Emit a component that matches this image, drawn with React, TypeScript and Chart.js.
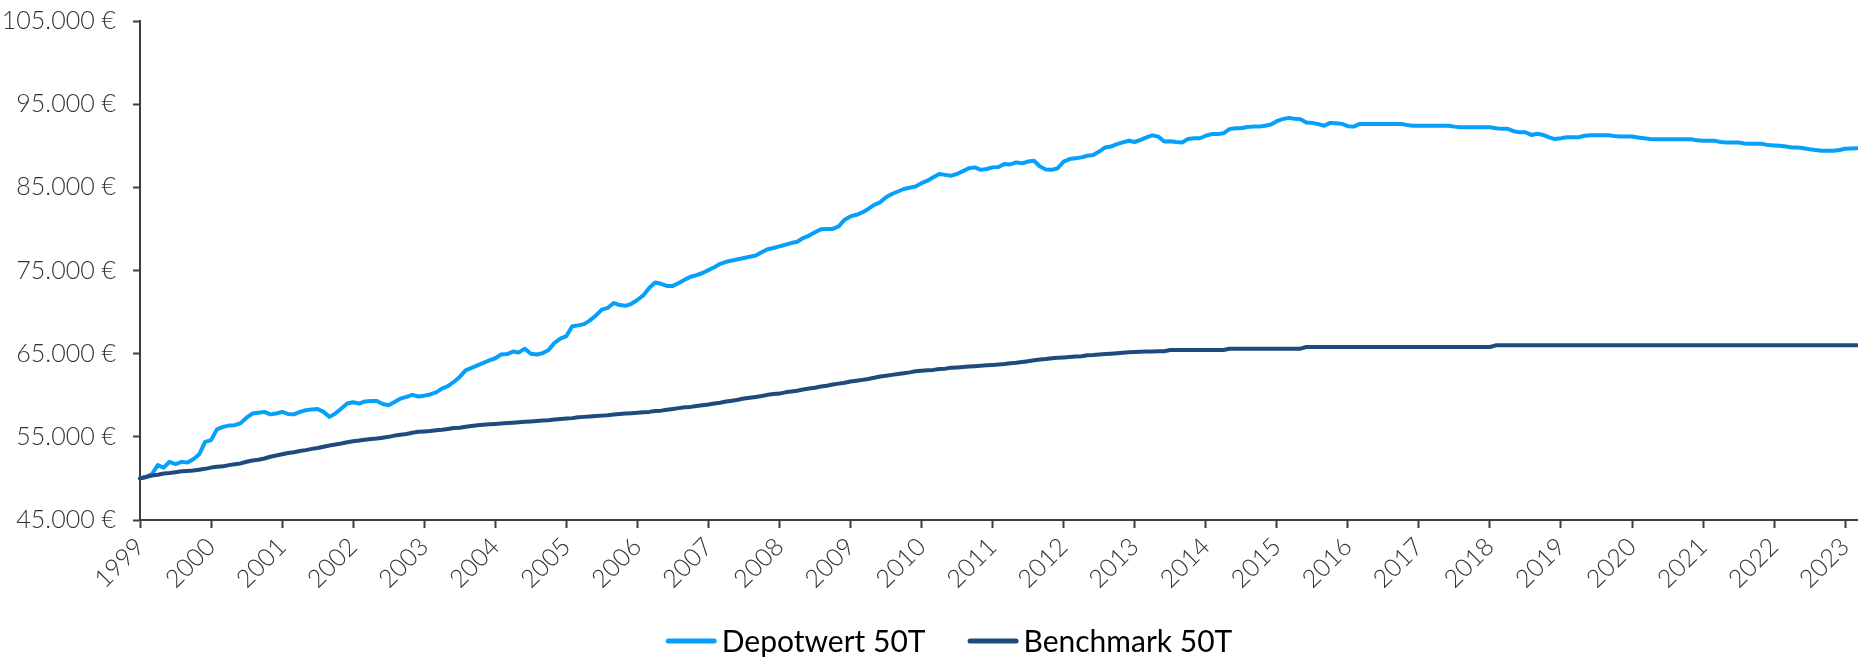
import { useEffect, useRef } from 'react';
import { Chart, registerables } from 'chart.js';

Chart.register(...registerables);

const startYear = 1999;

const seriesNames = ['Depotwert 50T', 'Benchmark 50T'];
const seriesColors = ['#06A0FB', '#1F4A7E'];

// monthly values, Jan 1999 .. Mar 2023
const depotwert = [
  50000, 50200, 50500, 51600, 51300, 52000, 51700, 52000, 51900, 52300, 52900, 54400,
  54600, 55900, 56200, 56350, 56400, 56650, 57300, 57800, 57900, 58000, 57700, 57800,
  58000, 57750, 57700, 58000, 58200, 58300, 58350, 58000, 57400, 57800, 58400, 59000,
  59150, 59000, 59250, 59300, 59300, 58950, 58800, 59200, 59600, 59800, 60050, 59850,
  59950, 60100, 60350, 60800, 61100, 61600, 62200, 63000, 63300, 63600, 63900, 64200,
  64450, 64900, 64950, 65250, 65150, 65600, 65000, 64900, 65050, 65450, 66300, 66800,
  67100, 68300, 68400, 68550, 69000, 69600, 70300, 70500, 71100, 70850, 70750, 71000,
  71450, 72000, 72900, 73550, 73400, 73150, 73150, 73500, 73900, 74250, 74450, 74700,
  75050, 75400, 75800, 76050, 76200, 76350, 76500, 76650, 76800, 77200, 77550, 77700,
  77900, 78100, 78300, 78450, 78900, 79200, 79600, 79950, 80000, 80000, 80300, 81100,
  81500, 81700, 81980, 82400, 82900, 83200, 83800, 84200, 84500, 84800, 84950, 85100,
  85500, 85800, 86200, 86600, 86500, 86400, 86600, 86950, 87300, 87400, 87100, 87200,
  87400, 87450, 87800, 87750, 88000, 87900, 88100, 88200, 87500, 87150, 87100, 87300,
  88100, 88400, 88500, 88600, 88800, 88900, 89300, 89800, 89900, 90200, 90400, 90600,
  90450, 90700, 91000, 91250, 91100, 90500, 90550, 90450, 90400, 90800, 90900, 90900,
  91200, 91400, 91400, 91500, 92000, 92100, 92100, 92250, 92300, 92300, 92400, 92550,
  92950, 93200, 93350, 93250, 93200, 92800, 92750, 92600, 92400, 92750, 92700, 92630,
  92350, 92300, 92630, 92630, 92630, 92630, 92630, 92630, 92630, 92630, 92500, 92400,
  92400, 92400, 92400, 92400, 92400, 92400, 92300, 92230, 92230, 92230, 92230, 92230,
  92230, 92100, 92030, 92030, 91750, 91630, 91630, 91300, 91450, 91300, 91000, 90800,
  90900, 91030, 91030, 91030, 91200, 91270, 91270, 91270, 91270, 91180, 91110, 91110,
  91110, 91000, 90900, 90800, 90790, 90790, 90790, 90790, 90790, 90790, 90790, 90650,
  90590, 90590, 90590, 90450, 90390, 90390, 90390, 90280, 90230, 90230, 90230, 90080,
  90030, 89990, 89900, 89800, 89790, 89700, 89590, 89500, 89390, 89390, 89390, 89500,
  89630, 89680, 89710,
];

const benchmark = [
  50000, 50150, 50350, 50450, 50600, 50650, 50750, 50850, 50900, 50950, 51050, 51150,
  51300, 51400, 51450, 51600, 51700, 51800, 52000, 52150, 52250, 52400, 52600, 52750,
  52900, 53050, 53150, 53300, 53400, 53550, 53650, 53800, 53950, 54080, 54200, 54350,
  54470, 54550, 54650, 54750, 54800, 54900, 55000, 55150, 55250, 55350, 55500, 55600,
  55650, 55700, 55800, 55850, 55950, 56050, 56100, 56200, 56300, 56400, 56450, 56500,
  56550, 56600, 56650, 56700, 56750, 56800, 56850, 56900, 56950, 57000, 57080, 57150,
  57200, 57250, 57350, 57400, 57450, 57500, 57550, 57600, 57680, 57750, 57800, 57850,
  57900, 57950, 58000, 58100, 58150, 58250, 58350, 58450, 58550, 58600, 58700, 58800,
  58880, 59000, 59100, 59250, 59350, 59450, 59600, 59700, 59800, 59900, 60050, 60150,
  60200, 60350, 60450, 60550, 60700, 60800, 60900, 61050, 61150, 61300, 61400, 61500,
  61650, 61750, 61850, 61950, 62100, 62250, 62350, 62450, 62550, 62650, 62750, 62880,
  62950, 63000, 63050, 63150, 63200, 63300, 63350, 63400, 63450, 63500, 63550, 63600,
  63650, 63700, 63750, 63850, 63900, 64000, 64100, 64200, 64300, 64350, 64450, 64500,
  64550, 64600, 64650, 64700, 64800, 64830, 64900, 64950, 65000, 65050, 65100, 65160,
  65200, 65220, 65250, 65270, 65280, 65300, 65450, 65450, 65450, 65450, 65450, 65450,
  65450, 65450, 65450, 65450, 65600, 65600, 65600, 65600, 65600, 65600, 65600, 65600,
  65600, 65600, 65600, 65600, 65600, 65800, 65800, 65800, 65800, 65800, 65800, 65800,
  65800, 65800, 65800, 65800, 65800, 65800, 65800, 65800, 65800, 65800, 65800, 65800,
  65800, 65800, 65800, 65800, 65800, 65800, 65800, 65800, 65800, 65800, 65800, 65800,
  65800, 66000, 66000, 66000, 66000, 66000, 66000, 66000, 66000, 66000, 66000, 66000,
  66000, 66000, 66000, 66000, 66000, 66000, 66000, 66000, 66000, 66000, 66000, 66000,
  66000, 66000, 66000, 66000, 66000, 66000, 66000, 66000, 66000, 66000, 66000, 66000,
  66000, 66000, 66000, 66000, 66000, 66000, 66000, 66000, 66000, 66000, 66000, 66000,
  66000, 66000, 66000, 66000, 66000, 66000, 66000, 66000, 66000, 66000, 66000, 66000,
  66000, 66000, 66000,
];

const yTicks = [45000, 55000, 65000, 75000, 85000, 95000, 105000];

const months = depotwert.map(
  (_, i) => `${startYear + Math.floor(i / 12)}-${String((i % 12) + 1).padStart(2, '0')}`
);

const formatEuro = (v: number) =>
  String(Math.round(v)).replace(/\B(?=(\d{3})+(?!\d))/g, '.') + ' €';

const AXIS_COLOR = '#3d3d3d';
const TICK_COLOR = '#333333';
const TICK_FONT = { family: 'Lato', size: 25, weight: 300 as any };

const legendPlugin = {
  id: 'customLegend',
  afterDraw(chart: any) {
    const ctx = chart.ctx as CanvasRenderingContext2D;
    ctx.save();
    ctx.font = '400 30px Lato';
    const lineLen = 51;
    const gap = 5;
    const itemGap = 42;
    const items = chart.data.datasets.map((ds: any) => ({
      label: ds.label,
      color: ds.borderColor,
      w: ctx.measureText(ds.label).width,
    }));
    const total =
      items.reduce((s: number, it: any) => s + lineLen + gap + it.w, 0) +
      itemGap * (items.length - 1);
    let x = 949 - total / 2;
    const y = 641;
    ctx.textBaseline = 'middle';
    ctx.textAlign = 'left';
    for (const it of items) {
      ctx.strokeStyle = it.color;
      ctx.lineWidth = 5;
      ctx.lineCap = 'round';
      ctx.beginPath();
      ctx.moveTo(x + 2.5, y);
      ctx.lineTo(x + lineLen - 2.5, y);
      ctx.stroke();
      x += lineLen + gap;
      ctx.fillStyle = '#000000';
      ctx.fillText(it.label, x, y + 1);
      x += it.w + itemGap;
    }
    ctx.restore();
  },
};

export default function App() {
  const canvasRef = useRef<HTMLCanvasElement | null>(null);

  useEffect(() => {
    if (!canvasRef.current) return;
    const chart = new Chart(canvasRef.current, {
      type: 'line',
      data: {
        labels: months,
        datasets: [
          {
            label: seriesNames[0],
            data: depotwert,
            borderColor: seriesColors[0],
            backgroundColor: seriesColors[0],
            borderWidth: 4,
            pointRadius: 0,
            tension: 0,
            borderJoinStyle: 'round',
            borderCapStyle: 'round',
            order: 2,
          },
          {
            label: seriesNames[1],
            data: benchmark,
            borderColor: seriesColors[1],
            backgroundColor: seriesColors[1],
            borderWidth: 4,
            pointRadius: 0,
            tension: 0,
            borderJoinStyle: 'round',
            borderCapStyle: 'round',
            order: 1,
          },
        ],
      },
      options: {
        responsive: false,
        animation: false,
        devicePixelRatio: 1,
        layout: { padding: { top: 21, right: 1, bottom: 0, left: 0 } },
        plugins: {
          legend: { display: false },
          tooltip: { enabled: false },
        },
        scales: {
          x: {
            type: 'category',
            offset: false,
            afterBuildTicks: (scale: any) => {
              scale.ticks = scale.ticks.filter((t: any) => t.value % 12 === 0);
            },
            afterFit: (scale: any) => {
              scale.height = 138;
              scale.paddingLeft = 0;
              scale.paddingRight = 0;
            },
            ticks: {
              autoSkip: false,
              minRotation: 45,
              maxRotation: 45,
              padding: 4,
              color: TICK_COLOR,
              font: TICK_FONT,
              callback: (value: any) => months[value as number].slice(0, 4),
            },
            grid: {
              display: true,
              drawOnChartArea: false,
              drawTicks: true,
              tickLength: 8,
              tickColor: AXIS_COLOR,
              tickWidth: 2,
              offset: false,
            },
            border: { display: true, color: AXIS_COLOR, width: 2 },
          },
          y: {
            type: 'linear',
            min: yTicks[0],
            max: yTicks[yTicks.length - 1],
            afterBuildTicks: (scale: any) => {
              scale.ticks = yTicks.map((v) => ({ value: v }));
            },
            afterFit: (scale: any) => {
              scale.width = 140;
              scale.paddingTop = 0;
              scale.paddingBottom = 0;
            },
            ticks: {
              padding: 17,
              color: TICK_COLOR,
              font: TICK_FONT,
              callback: (value: any) => formatEuro(Number(value)),
            },
            grid: {
              display: true,
              drawOnChartArea: false,
              drawTicks: true,
              tickLength: 7,
              tickColor: AXIS_COLOR,
              tickWidth: 2,
            },
            border: { display: true, color: AXIS_COLOR, width: 2 },
          },
        },
      },
      plugins: [legendPlugin],
    } as any);
    return () => chart.destroy();
  }, []);

  return (
    <div style={{ position: 'absolute', left: 0, top: 0, width: 1858, height: 658, background: '#fff' }}>
      <canvas ref={canvasRef} width={1858} height={658} style={{ display: 'block' }} />
    </div>
  );
}
